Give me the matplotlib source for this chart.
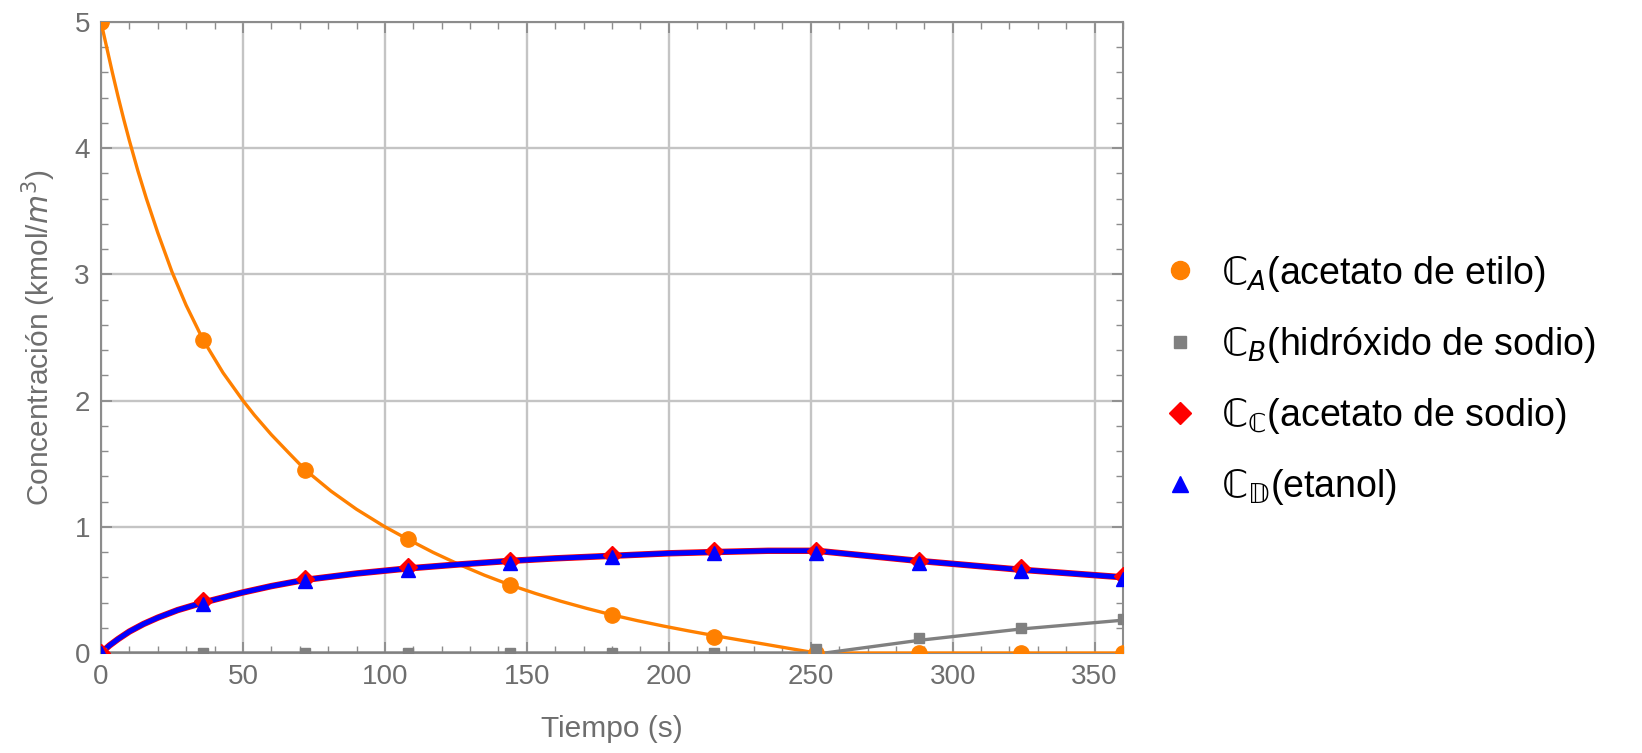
import matplotlib
matplotlib.use("Agg")
import matplotlib.pyplot as plt
from matplotlib.lines import Line2D
from matplotlib.ticker import MultipleLocator

plt.rcParams['font.family'] = ['Liberation Sans', 'DejaVu Sans']

# sampled points (every 36 s)
t_pts = [0, 36, 72, 108, 144, 180, 216, 252, 288, 324, 360]
ca_pts = [5.0, 2.48, 1.45, 0.90, 0.54, 0.30, 0.13, 0.0, 0.0, 0.0, 0.0]
cb_pts = [0.0, 0.0, 0.0, 0.0, 0.0, 0.0, 0.0, 0.03, 0.12, 0.20, 0.27]
cc_pts = [0.0, 0.41, 0.59, 0.68, 0.73, 0.78, 0.81, 0.81, 0.73, 0.67, 0.61]
cd_pts = [0.0, 0.39, 0.57, 0.66, 0.71, 0.76, 0.79, 0.79, 0.71, 0.65, 0.59]

# continuous curves
t_ca = [0, 2, 4, 6, 8, 10, 13, 16, 18, 20, 25, 30, 36, 43, 50, 54, 60, 66,
        72, 81, 90, 100, 108, 117, 126, 135, 144, 153, 162, 171, 180, 189,
        198, 207, 216, 225, 234, 243, 252, 300, 360]
ca_line = [5.0, 4.80, 4.60, 4.41, 4.23, 4.06, 3.82, 3.60, 3.465, 3.33, 3.02,
           2.755, 2.48, 2.22, 2.00, 1.886, 1.73, 1.589, 1.45, 1.283, 1.139,
           1.0, 0.902, 0.797, 0.703, 0.617, 0.54, 0.472, 0.41, 0.354, 0.302,
           0.256, 0.214, 0.175, 0.138, 0.103, 0.069, 0.034, 0.0, 0.0, 0.0]
t_cb = [0, 255, 288, 324, 360]
cb_line = [0.0, 0.0, 0.10, 0.19, 0.26]
t_cc = [0, 3, 6, 10, 15, 20, 27, 36, 50, 60, 72, 90, 108, 125, 144, 160, 180,
        200, 216, 235, 252, 270, 288, 324, 360]
cc_line = [0.0, 0.06, 0.11, 0.17, 0.23, 0.28, 0.34, 0.40, 0.48, 0.53, 0.58,
           0.63, 0.67, 0.70, 0.73, 0.75, 0.77, 0.79, 0.80, 0.81, 0.81, 0.77,
           0.73, 0.66, 0.60]

orange = '#ff8000'
gray = '#808080'
frame = '#8c8c8c'
label_col = '#6e6e6e'

fig = plt.figure(figsize=(16.42, 7.53), dpi=100)
ax = fig.add_axes([101 / 1642, 100 / 753, 1022 / 1642, 631 / 753])

ax.plot(t_ca, ca_line, color=orange, lw=2.4, zorder=3)
ax.plot(t_cb, cb_line, color=gray, lw=2.4, zorder=3)
ax.plot(t_cc, cc_line, color='red', lw=4.6, zorder=4)
ax.plot(t_cc, cc_line, color='blue', lw=3.6, zorder=4)

ax.plot(t_pts, ca_pts, 'o', color=orange, ms=11, zorder=5)
ax.plot(t_pts, cb_pts, 's', color=gray, ms=7, zorder=5)
ax.plot(t_pts, cc_pts, 'D', color='red', ms=9, zorder=6)
ax.plot(t_pts, cd_pts, '^', color='blue', ms=10, zorder=7)

ax.set_xlim(0, 360)
ax.set_ylim(0, 5)
ax.xaxis.set_major_locator(MultipleLocator(50))
ax.xaxis.set_minor_locator(MultipleLocator(10))
ax.yaxis.set_major_locator(MultipleLocator(1))
ax.yaxis.set_minor_locator(MultipleLocator(0.2))
ax.grid(True, which='major', color='#c4c4c4', lw=1.7)
ax.set_axisbelow(True)

for s in ax.spines.values():
    s.set_color(frame)
    s.set_linewidth(1.5)
ax.tick_params(which='both', direction='in', top=True, right=True,
               color=frame, labelcolor=label_col, labelsize=20)
ax.tick_params(which='major', length=8, width=1.3, pad=8)
ax.tick_params(which='minor', length=5, width=1.0)

ax.set_xlabel('Tiempo (s)', fontsize=21.5, color=label_col, labelpad=18)
ax.set_ylabel('Concentración (kmol/$m^3$)', fontsize=21.5, color=label_col,
              labelpad=12)

handles = [
    Line2D([], [], ls='none', marker='o', color=orange, ms=13),
    Line2D([], [], ls='none', marker='s', color=gray, ms=8),
    Line2D([], [], ls='none', marker='D', color='red', ms=11),
    Line2D([], [], ls='none', marker='^', color='blue', ms=12),
]
labels = [r'$\mathrm{ℂ}_{A}$(acetato de etilo)',
          r'$\mathrm{ℂ}_{B}$(hidróxido de sodio)',
          r'$\mathrm{ℂ}_{\mathrm{ℂ}}$(acetato de sodio)',
          r'$\mathrm{ℂ}_{\mathrm{𝔻}}$(etanol)']
fig.legend(handles, labels, loc='center left',
           bbox_to_anchor=(1142 / 1642, 0.495), frameon=False, fontsize=27,
           handlelength=1.0, handletextpad=0.6, labelspacing=0.83,
           borderpad=0)

fig.savefig('out.png', dpi=100)
